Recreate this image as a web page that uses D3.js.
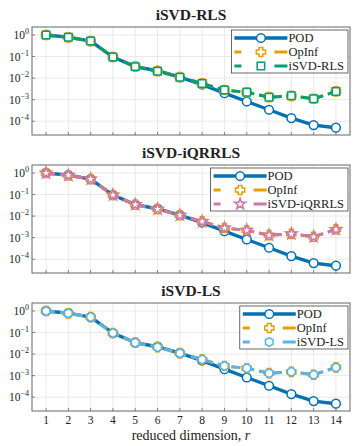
<!DOCTYPE html>
<html>
<head>
<meta charset="utf-8">
<script src="https://cdnjs.cloudflare.com/ajax/libs/d3/7.8.5/d3.min.js"></script>
<style>
  body { margin: 0; background: #fff; }
  svg text { font-family: "Liberation Serif", "DejaVu Serif", serif; fill: #222; }
</style>
</head>
<body>
<div id="chart"></div>
<script>
// reduced dimensions r = 1..14
var dims = [1, 2, 3, 4, 5, 6, 7, 8, 9, 10, 11, 12, 13, 14];

// relative errors
var podErr   = [1.0, 0.80, 0.52, 0.095, 0.034, 0.022, 0.011, 0.0050, 0.0020, 0.00082, 0.00034, 0.00014, 0.000066, 0.000050];
var opinfErr = [1.0, 0.78, 0.52, 0.095, 0.034, 0.021, 0.011, 0.0057, 0.0028, 0.0022, 0.0013, 0.0015, 0.0011, 0.0024];
var rlsErr   = [1.0, 0.78, 0.52, 0.095, 0.034, 0.021, 0.011, 0.0056, 0.0028, 0.0022, 0.0013, 0.0015, 0.0011, 0.0024];
var iqrErr   = [1.0, 0.78, 0.52, 0.095, 0.034, 0.021, 0.011, 0.0056, 0.0028, 0.0022, 0.0013, 0.0015, 0.0011, 0.0024];
var lsErr    = [1.0, 0.78, 0.52, 0.095, 0.034, 0.021, 0.011, 0.0056, 0.0028, 0.0022, 0.0013, 0.0015, 0.0011, 0.0024];

var panelTitles = ["iSVD-RLS", "iSVD-iQRRLS", "iSVD-LS"];
var yTickExp = [0, -1, -2, -3, -4];

var colors = {pod: "#0072B2", opinf: "#E69F00", rls: "#009E73", iqr: "#CC79A7", ls: "#56B4E9"};

var width = 357, height = 446;
var margin = {left: 32, right: 7};
var panelTops = [27, 165, 303];
var panelH = 108;

var svg = d3.select("#chart").append("svg")
    .attr("width", width)
    .attr("height", height);

var xScale = d3.scaleLinear()
    .domain([0.37, 14.63])
    .range([margin.left, width - margin.right]);

// marker shapes
function markerPath(kind) {
  if (kind == "circle") return d3.symbol(d3.symbolCircle, 60)();
  if (kind == "square") return d3.symbol(d3.symbolSquare, 56)();
  if (kind == "star") return d3.symbol(d3.symbolStar, 38)();
  if (kind == "plus") {
    var a = 4.6, b = 1.9;
    return "M" + -b + "," + -a + "H" + b + "V" + -b + "H" + a + "V" + b + "H" + b + "V" + a +
      "H" + -b + "V" + b + "H" + -a + "V" + -b + "H" + -b + "Z";
  }
  if (kind == "hexagon") {
    var pts = d3.range(6).map(function(i) {
      var t = Math.PI / 6 + i * Math.PI / 3;
      return [4.4 * Math.cos(t), 4.4 * Math.sin(t)];
    });
    return "M" + pts.join("L") + "Z";
  }
}

function drawPanel(p) {
  var top = panelTops[p.index];
  var yScale = d3.scaleLog()
      .domain([Math.pow(10, -4.64), Math.pow(10, 0.37)])
      .range([top + panelH, top]);

  var g = svg.append("g");

  // title
  g.append("text")
    .attr("x", (margin.left + width - margin.right) / 2)
    .attr("y", top - 7)
    .attr("text-anchor", "middle")
    .style("font-size", "15.5px")
    .style("font-weight", "bold")
    .text(p.title);

  // grid
  g.selectAll(".vgrid").data(dims).enter().append("line")
    .attr("x1", function(d) { return xScale(d); })
    .attr("x2", function(d) { return xScale(d); })
    .attr("y1", top).attr("y2", top + panelH)
    .attr("stroke", "#e3e3e3").attr("stroke-width", 0.8);
  g.selectAll(".hgrid").data(yTickExp).enter().append("line")
    .attr("x1", margin.left).attr("x2", width - margin.right)
    .attr("y1", function(d) { return yScale(Math.pow(10, d)); })
    .attr("y2", function(d) { return yScale(Math.pow(10, d)); })
    .attr("stroke", "#e3e3e3").attr("stroke-width", 0.8);

  // y tick labels
  var yl = g.selectAll(".ylab").data(yTickExp).enter().append("text")
    .attr("x", margin.left - 3)
    .attr("y", function(d) { return yScale(Math.pow(10, d)) + 4; })
    .attr("text-anchor", "end")
    .style("font-size", "11.5px");
  yl.append("tspan").text("10");
  yl.append("tspan").attr("dy", -5).style("font-size", "8px")
    .text(function(d) { return d == 0 ? "0" : "\u2212" + (-d); });

  // ticks
  g.selectAll(".ytick").data(yTickExp).enter().append("line")
    .attr("x1", margin.left).attr("x2", margin.left + 3)
    .attr("y1", function(d) { return yScale(Math.pow(10, d)); })
    .attr("y2", function(d) { return yScale(Math.pow(10, d)); })
    .attr("stroke", "#555").attr("stroke-width", 0.7);
  g.selectAll(".xtick").data(dims).enter().append("line")
    .attr("x1", function(d) { return xScale(d); })
    .attr("x2", function(d) { return xScale(d); })
    .attr("y1", top + panelH).attr("y2", top + panelH - 3)
    .attr("stroke", "#555").attr("stroke-width", 0.7);

  var line = d3.line()
    .x(function(d) { return xScale(d[0]); })
    .y(function(d) { return yScale(d[1]); });

  p.series.forEach(function(s) {
    var pts = dims.map(function(r, i) { return [r, s.values[i]]; });
    g.append("path")
      .datum(pts)
      .attr("d", line)
      .attr("fill", "none")
      .attr("stroke", s.color)
      .attr("stroke-width", s.dash ? 3 : 3.4)
      .attr("stroke-dasharray", s.dash ? "9,5" : null);
    g.selectAll(null).data(pts).enter().append("path")
      .attr("d", markerPath(s.marker))
      .attr("transform", function(d) { return "translate(" + xScale(d[0]) + "," + yScale(d[1]) + ")"; })
      .attr("fill", "#fff")
      .attr("stroke", s.color)
      .attr("stroke-width", 1.5);
  });

  // frame
  g.append("rect")
    .attr("x", margin.left).attr("y", top)
    .attr("width", width - margin.right - margin.left).attr("height", panelH)
    .attr("fill", "none").attr("stroke", "#666").attr("stroke-width", 1);

  // legend, sized to its longest label and kept at the top right
  var leg = g.append("g");
  var box = leg.append("rect");
  var labels = p.series.map(function(s, i) {
    return leg.append("text")
      .attr("y", top + 11 + i * 14 + 4)
      .style("font-size", "12.5px")
      .text(s.name);
  });
  var textW = d3.max(labels, function(t) { return t.node().getComputedTextLength(); });
  var right = width - margin.right - 2;
  var lx = right - (textW + 61);
  box.attr("x", lx).attr("y", top + 3).attr("width", right - lx).attr("height", 43)
    .attr("fill", "#fff").attr("stroke", "#444").attr("stroke-width", 0.8);
  labels.forEach(function(t) { t.attr("x", lx + 57); t.raise(); });
  p.series.forEach(function(s, i) {
    var yy = top + 11 + i * 14;
    leg.append("line")
      .attr("x1", lx + 3).attr("x2", lx + 56)
      .attr("y1", yy).attr("y2", yy)
      .attr("stroke", s.color)
      .attr("stroke-width", s.dash ? 3 : 3.4)
      .attr("stroke-dasharray", s.dash ? "7,33,13" : null);
    leg.append("path")
      .attr("d", markerPath(s.marker))
      .attr("transform", "translate(" + (lx + 29.5) + "," + yy + ")")
      .attr("fill", "#fff").attr("stroke", s.color).attr("stroke-width", 1.5);
  });

  // x axis labels on last panel
  if (p.index == 2) {
    g.selectAll(".xlab").data(dims).enter().append("text")
      .attr("x", function(d) { return xScale(d); })
      .attr("y", top + panelH + 13)
      .attr("text-anchor", "middle")
      .style("font-size", "11.5px")
      .text(function(d) { return d; });
    var xl = g.append("text")
      .attr("x", (margin.left + width - margin.right) / 2)
      .attr("y", top + panelH + 29)
      .attr("text-anchor", "middle")
      .style("font-size", "14px");
    xl.append("tspan").text("reduced dimension, ");
    xl.append("tspan").style("font-style", "italic").text("r");
  }
}

var base = [
  {name: "POD", values: podErr, color: colors.pod, marker: "circle", dash: false},
  {name: "OpInf", values: opinfErr, color: colors.opinf, marker: "plus", dash: true}
];

drawPanel({index: 0, title: panelTitles[0],
  series: base.concat([{name: "iSVD-RLS", values: rlsErr, color: colors.rls, marker: "square", dash: true}])});
drawPanel({index: 1, title: panelTitles[1],
  series: base.concat([{name: "iSVD-iQRRLS", values: iqrErr, color: colors.iqr, marker: "star", dash: true}])});
drawPanel({index: 2, title: panelTitles[2],
  series: base.concat([{name: "iSVD-LS", values: lsErr, color: colors.ls, marker: "hexagon", dash: true}])});
</script>
</body>
</html>
